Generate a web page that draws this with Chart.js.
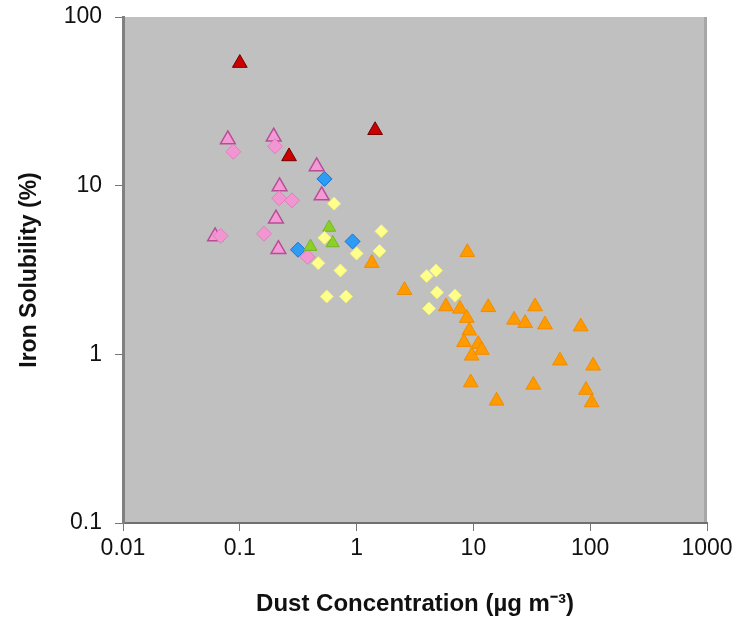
<!DOCTYPE html>
<html>
<head>
<meta charset="utf-8">
<script src="https://cdn.jsdelivr.net/npm/chart.js@4"></script>
<style>
  body { margin: 0; background: #fff; }
  canvas { display: block; }
</style>
</head>
<body>
<canvas id="chart" width="748" height="622"></canvas>
<script>
// axis ticks
const xTicks = [0.01, 0.1, 1, 10, 100, 1000];
const yTicks = [0.1, 1, 10, 100];
const xTickLabels = ["0.01", "0.1", "1", "10", "100", "1000"];
const yTickLabels = ["0.1", "1", "10", "100"];

// series: dust concentration (x) and iron solubility (y)
const redX = [0.10, 1.44, 0.264];
const redY = [53.3, 21.3, 14.9];

const pinkTriX = [0.079, 0.195, 0.455, 0.219, 0.502, 0.204, 0.0614, 0.214];
const pinkTriY = [18.8, 19.5, 13.0, 9.9, 8.75, 6.37, 5.0, 4.2];

const pinkDiaX = [0.088, 0.20, 0.217, 0.28, 0.0686, 0.161, 0.38];
const pinkDiaY = [15.9, 17.1, 8.41, 8.18, 5.04, 5.19, 3.78];

const blueX = [0.531, 0.923, 0.315];
const blueY = [10.97, 4.67, 4.17];

const greenX = [0.583, 0.624, 0.403];
const greenY = [5.65, 4.57, 4.35];

const yellowX = [0.641, 0.531, 1.63, 1.57, 1.0, 0.47, 0.727, 0.555, 0.811, 3.98, 4.79, 4.88, 6.95, 4.17];
const yellowY = [7.82, 4.91, 5.37, 4.1, 3.96, 3.47, 3.14, 2.2, 2.2, 2.91, 3.14, 2.33, 2.23, 1.87];

const orangeX = [1.35, 2.57, 8.87, 5.82, 7.67, 8.77, 13.4, 33.7, 22.3, 27.7, 41.0, 83.0, 9.22, 8.30, 11.0, 11.8, 9.66, 55.1, 106, 9.49, 32.6, 15.8, 92.0, 103];
const orangeY = [3.47, 2.4, 4.03, 1.92, 1.86, 1.64, 1.90, 1.92, 1.6, 1.53, 1.50, 1.46, 1.38, 1.18, 1.15, 1.06, 0.98, 0.917, 0.855, 0.68, 0.659, 0.53, 0.614, 0.518];

const pts = (xs, ys) => xs.map((x, i) => ({ x: x, y: ys[i] }));

const FONT = "'Liberation Sans', Arial, Helvetica, sans-serif";

// gray plot area like the original spreadsheet chart
const plotBg = {
    id: "plotBg",
    beforeDraw(chart) {
        const a = chart.chartArea;
        const ctx = chart.ctx;
        ctx.save();
        ctx.fillStyle = "#c0c0c0";
        ctx.fillRect(a.left, a.top, a.right - a.left, a.bottom - a.top);
        ctx.fillStyle = "rgba(120,120,120,0.35)";
        ctx.fillRect(a.right - 3, a.top, 3, a.bottom - a.top);
        ctx.restore();
    }
};

const ds = (label, xs, ys, shape, fill, border, r, bw) => ({
    label: label,
    data: pts(xs, ys),
    pointStyle: shape,
    pointRadius: r,
    pointHoverRadius: r,
    backgroundColor: fill,
    borderColor: border,
    borderWidth: bw
});

new Chart(document.getElementById("chart"), {
    type: "scatter",
    data: {
        datasets: [
            ds("orange", orangeX, orangeY, "triangle", "#ff9a00", "#f08c00", 8.5, 1),
            ds("yellow", yellowX, yellowY, "rectRot", "#ffff8c", "#f0f07c", 6.5, 1),
            ds("green", greenX, greenY, "triangle", "#8ccf28", "#72b820", 7.5, 1),
            ds("pinkDia", pinkDiaX, pinkDiaY, "rectRot", "#f296d2", "#e07ec0", 7.5, 1),
            ds("pinkTri", pinkTriX, pinkTriY, "triangle", "#f29ad4", "#b84c96", 8.5, 1.5),
            ds("blue", blueX, blueY, "rectRot", "#2c9cf4", "#1a6fd8", 7.5, 1),
            ds("red", redX, redY, "triangle", "#cc0000", "#700000", 8.5, 1)
        ]
    },
    options: {
        responsive: false,
        animation: false,
        layout: { padding: { top: 17, right: 41, bottom: 0, left: 0 } },
        plugins: {
            legend: { display: false },
            tooltip: { enabled: false }
        },
        scales: {
            x: {
                type: "logarithmic",
                min: 0.01,
                max: 1000,
                afterBuildTicks: s => { s.ticks = xTicks.map(v => ({ value: v })); },
                afterFit: s => { s.height = 99; s.paddingLeft = 0; s.paddingRight = 0; },
                ticks: {
                    color: "#111",
                    font: { family: FONT, size: 23 },
                    padding: 4,
                    maxRotation: 0,
                    autoSkip: false,
                    callback: (v) => xTickLabels[xTicks.indexOf(v)]
                },
                grid: { drawOnChartArea: false, drawTicks: true, tickLength: 8, color: "#777" },
                border: { display: true, color: "#707070", width: 2 },
                title: {
                    display: true,
                    text: "Dust Concentration (\u00b5g m\u207b\u00b3)",
                    color: "#111",
                    font: { family: FONT, size: 24, weight: "bold" },
                    padding: { top: 4, bottom: 3 }
                }
            },
            y: {
                type: "logarithmic",
                min: 0.1,
                max: 100,
                afterBuildTicks: s => { s.ticks = yTicks.map(v => ({ value: v })); },
                afterFit: s => { s.width = 123; s.paddingTop = 0; s.paddingBottom = 0; },
                ticks: {
                    color: "#111",
                    font: { family: FONT, size: 23 },
                    padding: 13,
                    autoSkip: false,
                    callback: (v) => yTickLabels[yTicks.indexOf(v)]
                },
                grid: { drawOnChartArea: false, drawTicks: true, tickLength: 8, color: "#777" },
                border: { display: true, color: "#808080", width: 3 },
                title: {
                    display: true,
                    text: "Iron Solubility (%)",
                    color: "#111",
                    font: { family: FONT, size: 23, weight: "bold" },
                    padding: { top: 16, bottom: 4 }
                }
            }
        }
    },
    plugins: [plotBg]
});
</script>
</body>
</html>
